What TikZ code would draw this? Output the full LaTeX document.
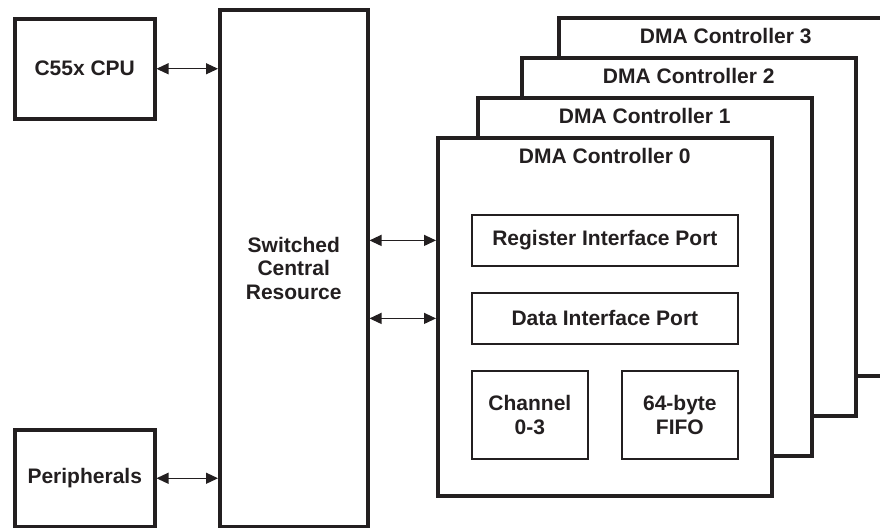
\documentclass[tikz,border=0pt]{standalone}
\usepackage{fontspec}
\setmainfont{Liberation Sans}
\usetikzlibrary{arrows.meta}
\definecolor{tidark}{RGB}{35,31,32}
\newcommand{\px}{0.5pt}
\newcommand{\hdr}{10pt}
\tikzset{
    common/.style={anchor=north west, draw=tidark, fill=white, rectangle, inner sep=0pt, align=center},
    outer/.style={common, line width=1.75pt},
    inner/.style={common, line width=0.9pt},
    dma/.style={outer, minimum width=334*\px, minimum height=358*\px},
    link/.style={{Triangle[length=6pt, width=5.5pt]}-{Triangle[length=6pt, width=5.5pt]}, draw=tidark, line width=0.6pt}
}
\begin{document}
\begin{tikzpicture}[x=\px, y=-\px, font=\bfseries\fontsize{10.5}{11.75}\selectfont, text=tidark]
    \clip (0,0) rectangle (880,527);
    \fill[white] (0,0) rectangle (880,527);

    \node[outer, minimum width=140*\px, minimum height=100*\px] (cpu) at (13,17) {C55x CPU};
    \node[outer, minimum width=148*\px, minimum height=517*\px] (scr) at (218,8) {Switched\\Central\\Resource};
    \node[outer, minimum width=140*\px, minimum height=97*\px] (per) at (13,428) {Peripherals};

    % stack of controllers, back to front
    \node[dma, label={[anchor=center, yshift=-\hdr]north:DMA Controller 3}] (dma3) at (557,16) {};
    \node[dma, label={[anchor=center, yshift=-\hdr]north:DMA Controller 2}] (dma2) at (520,56) {};
    \node[dma, label={[anchor=center, yshift=-\hdr]north:DMA Controller 1}] (dma1) at (476,96) {};
    \node[dma, label={[anchor=center, yshift=-\hdr]north:DMA Controller 0}] (dma0) at (436,136) {};

    \node[inner, minimum width=266*\px, minimum height=51*\px] (reg) at (471,214) {Register Interface Port};
    \node[inner, minimum width=266*\px, minimum height=51*\px] (data) at (471,292) {Data Interface Port};
    \node[inner, minimum width=116*\px, minimum height=88*\px] (chan) at (471,370) {Channel\\0-3};
    \node[inner, minimum width=116*\px, minimum height=88*\px] (fifo) at (621,370) {64-byte\\FIFO};

    \draw[link] (cpu.east) -- (cpu.east -| scr.west);
    \draw[link] (per.east) -- (per.east -| scr.west);
    \draw[link] (reg.west -| scr.east) -- (reg.west -| dma0.west);
    \draw[link] (data.west -| scr.east) -- (data.west -| dma0.west);
\end{tikzpicture}
\end{document}
